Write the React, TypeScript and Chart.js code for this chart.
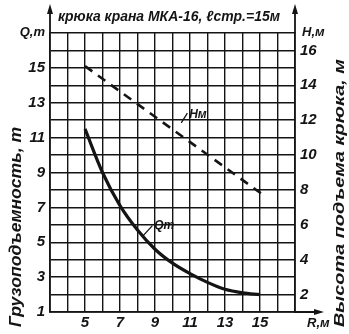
import React, { useEffect, useRef } from "react";
import { Chart, registerables } from "chart.js";
Chart.register(...registerables);

// Data
const capacityRadii = [5, 6, 7, 8, 9, 10, 11, 12, 13, 14, 15];
const capacityT = [11.5, 9.0, 7.1, 5.7, 4.6, 3.8, 3.2, 2.7, 2.3, 2.1, 2.0];
const heightRadii = [5, 15.2];
const heightM = [15.1, 7.7];
const radiusTicks = [5, 7, 9, 11, 13, 15];
const capacityTicks = [1, 3, 5, 7, 9, 11, 13, 15];
const heightTicks = [2, 4, 6, 8, 10, 12, 14, 16];
const titleText = "крюка крана МКА-16, ℓстр.=15м";
const leftTitle = "Грузоподъемность, т";
const rightTitle = "Высота подъема крюка, м";
const qAxisLabel = "Q,т";
const hAxisLabel = "H,м";
const rAxisLabel = "R,м";
const qCurveLabel = "Qт";
const hCurveLabel = "Hм";

const INK = "#141414";
const FONT = "'Liberation Sans', 'DejaVu Sans', sans-serif";

function fitText(ctx: CanvasRenderingContext2D, text: string, cx: number, cy: number, width: number, rot: number, size: number, weight: string) {
  ctx.save();
  ctx.font = `italic ${weight} ${size}px ${FONT}`;
  const w = ctx.measureText(text).width;
  ctx.translate(cx, cy);
  ctx.rotate(rot);
  ctx.scale(width / w, 1);
  ctx.textAlign = "center";
  ctx.textBaseline = "middle";
  ctx.fillStyle = INK;
  ctx.fillText(text, 0, 0);
  ctx.restore();
}

function arrowHead(ctx: CanvasRenderingContext2D, x: number, y: number, dir: "up" | "right") {
  ctx.beginPath();
  if (dir === "up") {
    ctx.moveTo(x, y);
    ctx.lineTo(x - 3, y + 10);
    ctx.lineTo(x + 3, y + 10);
  } else {
    ctx.moveTo(x, y);
    ctx.lineTo(x - 10, y - 3);
    ctx.lineTo(x - 10, y + 3);
  }
  ctx.closePath();
  ctx.fill();
}

const decorations = {
  id: "decorations",
  afterDraw(chart: any) {
    const { ctx, chartArea, scales } = chart;
    const { left, right, top, bottom } = chartArea;
    ctx.save();
    ctx.strokeStyle = INK;
    ctx.fillStyle = INK;
    ctx.lineWidth = 1.8;
    // axis extensions with arrows
    ctx.beginPath();
    ctx.moveTo(left, top);
    ctx.lineTo(left, 8);
    ctx.moveTo(right, top);
    ctx.lineTo(right, 8);
    ctx.moveTo(right, bottom);
    ctx.lineTo(318, bottom);
    ctx.stroke();
    arrowHead(ctx, left, 4, "up");
    arrowHead(ctx, right, 4, "up");
    arrowHead(ctx, 324, bottom, "right");

    // axis unit labels
    ctx.font = `italic bold 13px ${FONT}`;
    ctx.textBaseline = "middle";
    ctx.textAlign = "right";
    ctx.fillText(qAxisLabel, left - 5, top - 1);
    ctx.textAlign = "left";
    ctx.fillText(hAxisLabel, right + 7, top - 1);
    ctx.fillText(rAxisLabel, 307, 323);

    // titles
    fitText(ctx, titleText, 169, 17, 222, 0, 15, "bold");
    fitText(ctx, leftTitle, 17, 227, 200, -Math.PI / 2, 16, "bold");
    fitText(ctx, rightTitle, 340, 193, 268, -Math.PI / 2, 15, "bold");

    // curve labels with leaders
    const x = scales.x, yq = scales.yQ, yh = scales.yH;
    ctx.lineWidth = 1.3;
    ctx.beginPath();
    ctx.moveTo(x.getPixelForValue(8.3), yq.getPixelForValue(5.35));
    ctx.lineTo(x.getPixelForValue(8.85), yq.getPixelForValue(5.95));
    ctx.moveTo(x.getPixelForValue(10.5), yh.getPixelForValue(11.85));
    ctx.lineTo(x.getPixelForValue(10.85), yh.getPixelForValue(12.4));
    ctx.stroke();
    ctx.font = `italic bold 12px ${FONT}`;
    ctx.textAlign = "left";
    ctx.textBaseline = "alphabetic";
    ctx.fillText(qCurveLabel, x.getPixelForValue(8.95), yq.getPixelForValue(5.75));
    ctx.fillText(hCurveLabel, x.getPixelForValue(10.95), yh.getPixelForValue(12.1));
    ctx.restore();
  },
};

export default function App() {
  const ref = useRef<HTMLCanvasElement | null>(null);
  useEffect(() => {
    if (!ref.current) return;
    const tickFont = { family: FONT, size: 15, style: "italic" as const, weight: "bold" as const };
    const chart = new Chart(ref.current, {
      type: "line",
      data: {
        datasets: [
          {
            label: "Q",
            data: capacityRadii.map((r, i) => ({ x: r, y: capacityT[i] })),
            yAxisID: "yQ",
            borderColor: INK,
            borderWidth: 3.2,
            pointRadius: 0,
            cubicInterpolationMode: "monotone",
            fill: false,
          },
          {
            label: "H",
            data: heightRadii.map((r, i) => ({ x: r, y: heightM[i] })),
            yAxisID: "yH",
            borderColor: INK,
            borderWidth: 2.6,
            borderDash: [9, 7],
            pointRadius: 0,
            fill: false,
          },
        ],
      },
      options: {
        animation: false,
        responsive: false,
        layout: { padding: { top: 33, left: 0, right: 0, bottom: 0 } },
        plugins: { legend: { display: false }, tooltip: { enabled: false }, title: { display: false } },
        scales: {
          x: {
            type: "linear",
            min: 3,
            max: 17,
            afterBuildTicks: (s: any) => {
              s.ticks = [];
              for (let v = 3; v <= 17; v++) s.ticks.push({ value: v });
            },
            afterFit: (s: any) => { s.height = 22; },
            grid: { color: INK, lineWidth: 1.4, drawTicks: false },
            border: { display: true, color: INK, width: 1.8 },
            ticks: {
              color: INK,
              font: tickFont,
              padding: 2,
              maxRotation: 0,
              autoSkip: false,
              callback: (v: any) => (radiusTicks.includes(Number(v)) ? String(v) : ""),
            },
          },
          yQ: {
            type: "linear",
            position: "left",
            min: 1,
            max: 17,
            afterBuildTicks: (s: any) => {
              s.ticks = [];
              for (let v = 1; v <= 17; v++) s.ticks.push({ value: v });
            },
            afterFit: (s: any) => { s.width = 50; },
            grid: { color: INK, lineWidth: 1.4, drawTicks: false },
            border: { display: true, color: INK, width: 1.8 },
            ticks: {
              color: INK,
              font: tickFont,
              padding: 5,
              autoSkip: false,
              callback: (v: any) => (capacityTicks.includes(Number(v)) ? String(v) : ""),
            },
          },
          yH: {
            type: "linear",
            position: "right",
            min: 1,
            max: 17,
            afterBuildTicks: (s: any) => {
              s.ticks = [];
              for (let v = 1; v <= 17; v++) s.ticks.push({ value: v });
            },
            afterFit: (s: any) => { s.width = 54; },
            grid: { display: false, drawTicks: false },
            border: { display: true, color: INK, width: 1.8 },
            ticks: {
              color: INK,
              font: tickFont,
              padding: 5,
              autoSkip: false,
              callback: (v: any) => (heightTicks.includes(Number(v)) ? String(v) : ""),
            },
          },
        },
      },
      plugins: [decorations],
    });
    return () => chart.destroy();
  }, []);
  return (
    <div style={{ position: "fixed", left: 0, top: 0, width: 349, height: 334, background: "#fff" }}>
      <canvas ref={ref} width={349} height={334} style={{ width: 349, height: 334, display: "block" }} />
    </div>
  );
}
